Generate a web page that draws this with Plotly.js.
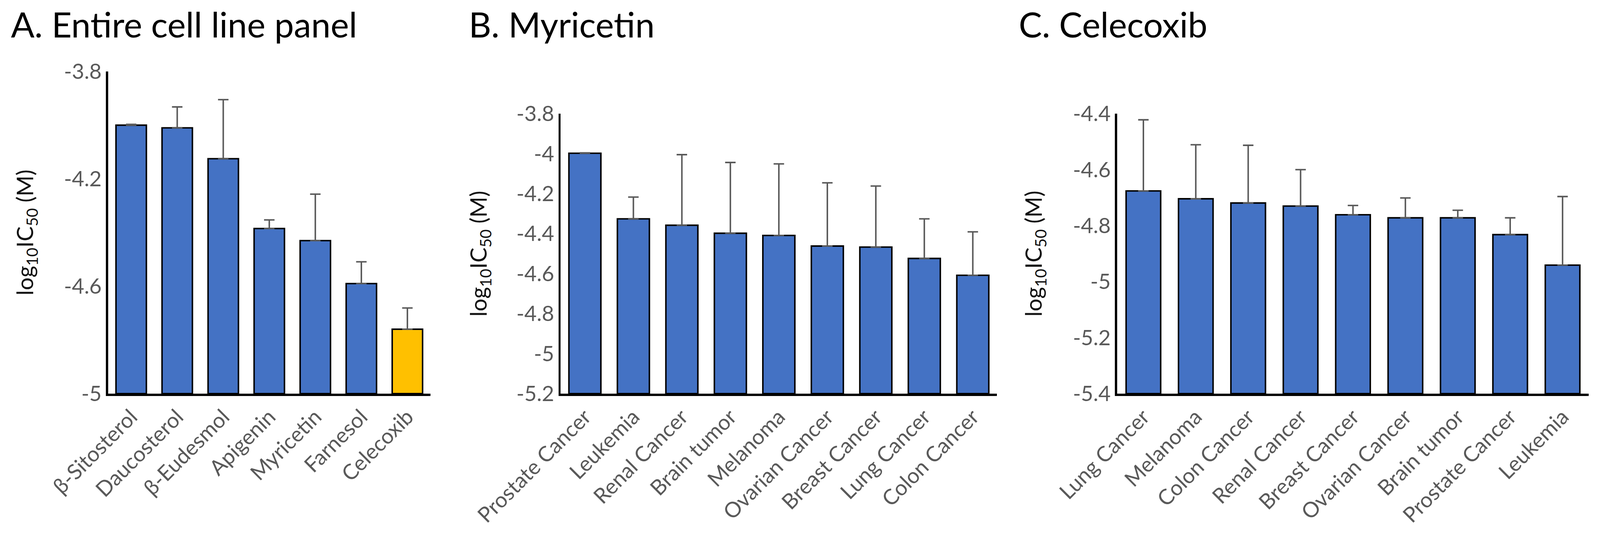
<!DOCTYPE html>
<html>
<head>
<meta charset="utf-8">
<script src="https://cdn.plot.ly/plotly-3.0.1.min.js"></script>
<style>
  html, body { margin: 0; padding: 0; background: #ffffff; overflow: hidden; }
  #chart { width: 100vw; height: 100vh; }
</style>
</head>
<body>
<div id="chart"></div>
<script>
// ---------- Data ----------
const catsA = ['β-Sitosterol', 'Daucosterol', 'β-Eudesmol', 'Apigenin', 'Myricetin', 'Farnesol', 'Celecoxib'];
const valsA = [-4.00, -4.01, -4.125, -4.385, -4.43, -4.59, -4.76];
const errsA = [0.003, 0.078, 0.22, 0.032, 0.173, 0.081, 0.079];

const catsB = ['Prostate Cancer', 'Leukemia', 'Renal Cancer', 'Brain tumor', 'Melanoma', 'Ovarian Cancer', 'Breast Cancer', 'Lung Cancer', 'Colon Cancer'];
const valsB = [-3.998, -4.326, -4.358, -4.398, -4.409, -4.462, -4.467, -4.524, -4.608];
const errsB = [0.002, 0.109, 0.353, 0.354, 0.358, 0.316, 0.305, 0.198, 0.217];

const catsC = ['Lung Cancer', 'Melanoma', 'Colon Cancer', 'Renal Cancer', 'Breast Cancer', 'Ovarian Cancer', 'Brain tumor', 'Prostate Cancer', 'Leukemia'];
const valsC = [-4.676, -4.704, -4.719, -4.730, -4.761, -4.772, -4.772, -4.832, -4.941];
const errsC = [0.254, 0.193, 0.206, 0.130, 0.033, 0.071, 0.027, 0.060, 0.245];

const rangeA = [-5, -3.8];
const rangeB = [-5.2, -3.8];
const rangeC = [-5.4, -4.4];

const tickValsA = [-5, -4.6, -4.2, -3.8];
const tickTextA = ['-5', '-4.6', '-4.2', '-3.8'];
const tickValsB = [-5.2, -5, -4.8, -4.6, -4.4, -4.2, -4, -3.8];
const tickTextB = ['-5.2', '-5', '-4.8', '-4.6', '-4.4', '-4.2', '-4', '-3.8'];
const tickValsC = [-5.4, -5.2, -5, -4.8, -4.6, -4.4];
const tickTextC = ['-5.4', '-5.2', '-5', '-4.8', '-4.6', '-4.4'];

const titles = ['A. Entire cell line panel', 'B. Myricetin', 'C. Celecoxib'];
const yTitle = 'log<sub>10</sub>IC<sub>50</sub> (M)';

// ---------- Styling ----------
const BLUE = '#4472C4';
const GOLD = '#FFC000';
const FONT = 'Lato, "Open Sans", sans-serif';
const GREY = '#595959';
const W = 4275, H = 1416;                       // reference frame
const VW = window.innerWidth || W;
const VH = window.innerHeight || H;
const k = VW / W;                                // scale for sizes

function px(x) { return x / W; }
function py(y) { return 1 - y / H; }

function barTrace(cats, vals, errs, range, colors, xa, ya) {
  const base = range[0];
  return {
    type: 'bar',
    x: cats,
    y: vals.map(v => v - base),
    base: base,
    xaxis: xa, yaxis: ya,
    marker: { color: colors, line: { color: '#000000', width: 4 * k } },
    error_y: {
      type: 'data', symmetric: false,
      array: errs, arrayminus: errs.map(() => 0),
      color: GREY, thickness: 4 * k, width: 14 * k
    },
    hoverinfo: 'x',
    showlegend: false
  };
}

const colorsA = catsA.map(c => c === 'Celecoxib' ? GOLD : BLUE);
const colorsB = catsB.map(() => BLUE);
const colorsC = catsC.map(() => BLUE);

const data = [
  barTrace(catsA, valsA, errsA, rangeA, colorsA, 'x', 'y'),
  barTrace(catsB, valsB, errsB, rangeB, colorsB, 'x2', 'y2'),
  barTrace(catsC, valsC, errsC, rangeC, colorsC, 'x3', 'y3')
];

const bottom = 1008;
function xaxis(domain, anchor) {
  return {
    domain: domain, anchor: anchor,
    type: 'category',
    showline: true, linecolor: '#000000', linewidth: 6 * k,
    showgrid: false, zeroline: false, ticks: '',
    tickangle: -45,
    tickfont: { family: FONT, size: 57 * k, color: GREY },
    ticklabelstandoff: 58 * k,
    automargin: false,
    fixedrange: true
  };
}
function yaxis(domain, anchor, range, tv, tt) {
  return {
    domain: domain, anchor: anchor,
    range: range,
    tickmode: 'array', tickvals: tv, ticktext: tt,
    showline: true, linecolor: '#000000', linewidth: 6 * k,
    showgrid: false, zeroline: false, ticks: '',
    tickfont: { family: FONT, size: 57 * k, color: GREY },
    ticklabelstandoff: 52 * k,
    automargin: false,
    fixedrange: true
  };
}

const topA = 183, topB = 291, topC = 291;
function panelTitle(text, x) {
  return { text: text, xref: 'paper', yref: 'paper', x: px(x), y: py(62), xanchor: 'left', yanchor: 'middle',
           showarrow: false, font: { family: FONT, size: 93 * k, color: '#000000' } };
}
function axisTitle(x, top) {
  return { text: yTitle, xref: 'paper', yref: 'paper', x: px(x), y: py((top + bottom) / 2), xanchor: 'center', yanchor: 'middle',
           textangle: -90, showarrow: false, font: { family: FONT, size: 60 * k, color: '#111111' } };
}

const layout = {
  width: VW, height: VH,
  margin: { l: 0, r: 0, t: 0, b: 0, pad: 0 },
  paper_bgcolor: '#ffffff', plot_bgcolor: '#ffffff',
  bargap: 0.34,
  showlegend: false,
  xaxis:  xaxis([px(289), px(1150)], 'y'),
  yaxis:  yaxis([py(bottom), py(topA)], 'x', rangeA, tickValsA, tickTextA),
  xaxis2: xaxis([px(1498), px(2664)], 'y2'),
  yaxis2: yaxis([py(bottom), py(topB)], 'x2', rangeB, tickValsB, tickTextB),
  xaxis3: xaxis([px(2985), px(4245)], 'y3'),
  yaxis3: yaxis([py(bottom), py(topC)], 'x3', rangeC, tickValsC, tickTextC),
  annotations: [
    panelTitle(titles[0], 27),
    panelTitle(titles[1], 1250),
    panelTitle(titles[2], 2720),
    axisTitle(69, topA),
    axisTitle(1282, topB),
    axisTitle(2765, topC)
  ]
};

Plotly.newPlot('chart', data, layout, { displayModeBar: false, responsive: false, staticPlot: true });
</script>
</body>
</html>
